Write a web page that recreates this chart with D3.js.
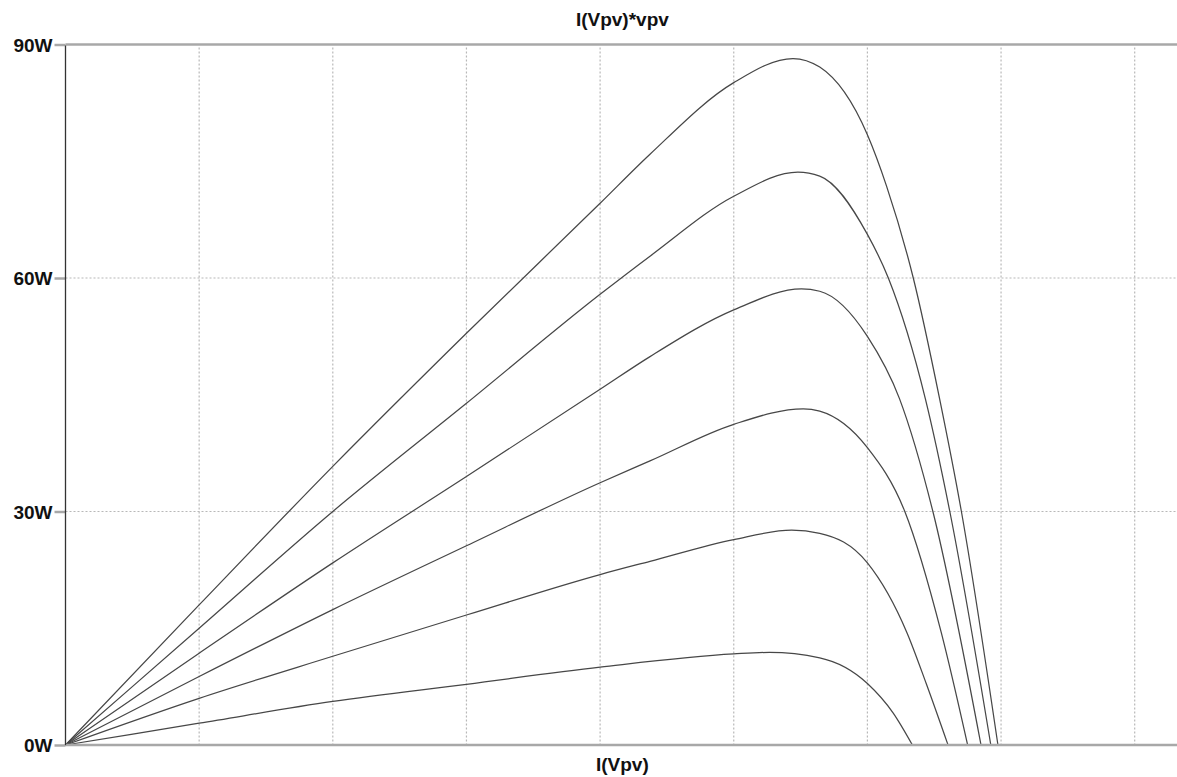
<!DOCTYPE html>
<html>
<head>
<meta charset="utf-8">
<script src="https://cdn.jsdelivr.net/npm/d3@7"></script>
<style>
  html, body { margin: 0; padding: 0; background: #fff; }
  svg { display: block; }
  text { font-family: "Liberation Sans", Arial, sans-serif; font-weight: bold; fill: #111; }
</style>
</head>
<body>
<svg id="chart" width="1177" height="777"></svg>
<script>
// ---- data ----
const title = "I(Vpv)*vpv";
const xLabel = "I(Vpv)";
const yTicks = [0, 30, 60, 90];
const yTickLabels = ["0W", "30W", "60W", "90W"];
const xGrid = [3, 6, 9, 12, 15, 18, 21, 24];

const v1 = [0, 3, 6, 9, 12, 13.12, 15, 16.33, 16.93, 18, 18.43, 19.03, 19.62, 20.11, 20.93];
const p1 = [0, 18.0, 35.8, 52.9, 69.6, 75.9, 85.1, 88.2, 87.1, 78.4, 71.8, 60.0, 44.5, 30.0, 0];

const v2 = [0, 3, 6, 9, 12, 13.12, 15, 16.44, 16.93, 18, 18.47, 19.3, 19.85, 20.77];
const p2 = [0, 15.0, 30.0, 43.9, 57.9, 62.8, 70.5, 73.6, 73.1, 65.6, 60.0, 44.5, 30.0, 0];

const v3 = [0, 3, 6, 9, 12, 13.12, 15, 16.52, 16.93, 18, 18.72, 19.47, 20.55];
const p3 = [0, 11.8, 23.4, 34.5, 45.7, 49.9, 55.9, 58.6, 58.3, 52.5, 44.5, 30.0, 0];

const v4 = [0, 3, 6, 9, 12, 13.12, 15, 16.56, 16.93, 18, 18.84, 19.66, 20.25];
const p4 = [0, 8.8, 17.4, 25.6, 33.7, 36.5, 41.2, 43.2, 42.9, 38.2, 30.0, 14.4, 0];

const v5 = [0, 3, 6, 9, 12, 13.12, 15, 16.3, 16.93, 18, 18.89, 19.32, 19.81];
const p5 = [0, 6.0, 11.4, 16.7, 21.9, 23.6, 26.4, 27.6, 27.2, 23.4, 14.4, 7.9, 0];

const v6 = [0, 3, 6, 9, 12, 15, 15.8, 16.93, 18, 18.58, 19.01];
const p6 = [0, 2.8, 5.6, 7.8, 10.0, 11.7, 11.9, 11.2, 7.9, 4.1, 0];

const seriesV = [v1, v2, v3, v4, v5, v6];
const seriesP = [p1, p2, p3, p4, p5, p6];

// ---- layout ----
const svg = d3.select("#chart");
const mLeft = 65.5, mTop = 44.5, mBottom = 745;
const x = d3.scaleLinear().domain([0, 25]).range([mLeft, mLeft + 25 / 3 * 133.65]);
const y = d3.scaleLinear().domain([0, 90]).range([mBottom, mTop]);
const plotRight = x(25);

// grid
const g = svg.append("g");
g.selectAll("line.vg").data(xGrid).enter().append("line")
  .attr("x1", d => x(d)).attr("x2", d => x(d))
  .attr("y1", mTop + 3).attr("y2", mBottom)
  .attr("stroke", "#b8b8b8").attr("stroke-width", 1.2)
  .attr("stroke-dasharray", "2,2");
g.selectAll("line.hg").data(yTicks.filter(d => d > 0 && d < 90)).enter().append("line")
  .attr("x1", mLeft).attr("x2", plotRight)
  .attr("y1", d => y(d)).attr("y2", d => y(d))
  .attr("stroke", "#b8b8b8").attr("stroke-width", 1.2)
  .attr("stroke-dasharray", "2,2");

// curves
const line = d3.line().x(d => x(d[0])).y(d => y(d[1])).curve(d3.curveMonotoneX);
seriesV.forEach((vs, i) => {
  const pts = vs.map((v, j) => [v, seriesP[i][j]]);
  svg.append("path").datum(pts)
    .attr("d", line)
    .attr("fill", "none")
    .attr("stroke", "#474747")
    .attr("stroke-width", 1.25);
});

// y axis with ticks
const yAxis = d3.axisLeft(y).tickValues(yTicks).tickFormat((d, i) => yTickLabels[i]).tickSize(11).tickPadding(2);
const ya = svg.append("g").attr("transform", `translate(${mLeft},0)`).call(yAxis);
ya.select(".domain").remove();
ya.selectAll(".tick line").attr("stroke", "#a8a8a8").attr("stroke-width", 2.5);
ya.selectAll(".tick text").attr("font-size", 19).attr("font-weight", "bold")
  .attr("font-family", "Liberation Sans, Arial, sans-serif").attr("fill", "#111").attr("dy", "0.36em");

// frame lines: top and bottom gray
[90, 0].forEach(v => {
  svg.append("line").attr("x1", mLeft).attr("x2", 1177)
    .attr("y1", y(v)).attr("y2", y(v))
    .attr("stroke", "#a8a8a8").attr("stroke-width", 2.5);
});
// left axis
svg.append("line").attr("x1", mLeft).attr("x2", mLeft)
  .attr("y1", mTop + 1).attr("y2", mBottom)
  .attr("stroke", "#333").attr("stroke-width", 1.3);

// texts
svg.append("text").attr("x", (mLeft + plotRight) / 2).attr("y", 26)
  .attr("text-anchor", "middle").attr("font-size", 19).text(title);
svg.append("text").attr("x", (mLeft + plotRight) / 2).attr("y", 771)
  .attr("text-anchor", "middle").attr("font-size", 19).text(xLabel);
</script>
</body>
</html>
